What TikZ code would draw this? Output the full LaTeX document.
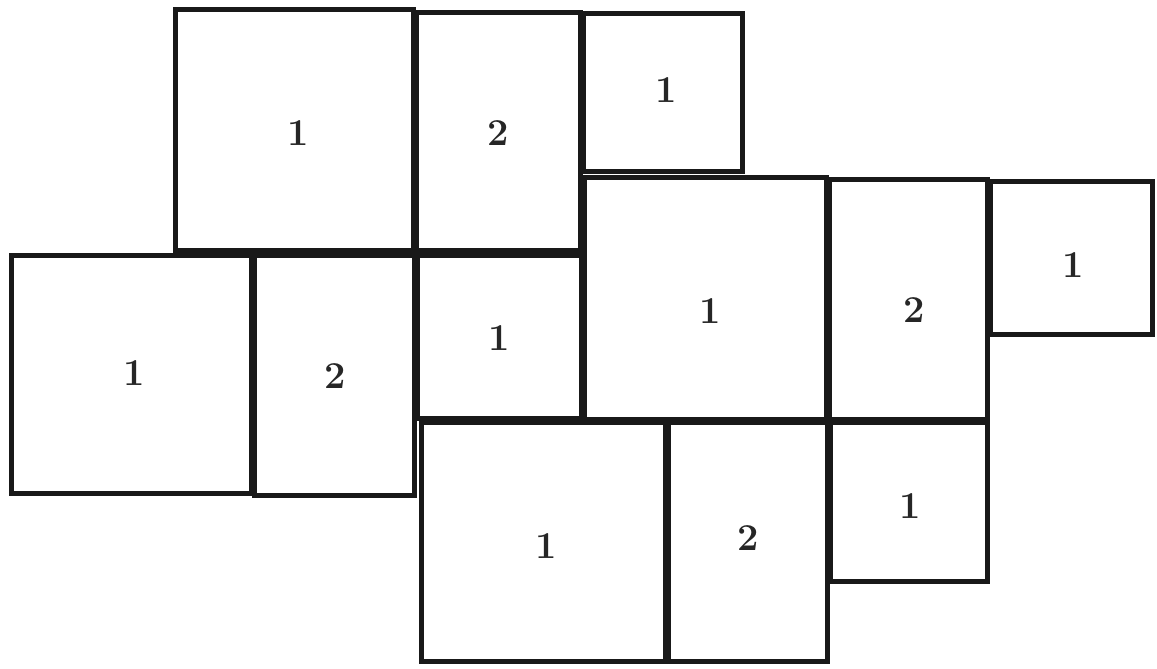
\documentclass[tikz,border=0pt]{standalone}
\begin{document}
\begin{tikzpicture}[x=1pt,y=-1pt,
  tile/.style={draw=black!90, line width=4.6pt, line join=miter},
  num/.style={inner sep=0pt, font=\fontsize{38}{38}\selectfont\bfseries, text=black!85}]
\useasboundingbox[fill=white] (0,0) rectangle (1157,669);
% tile (name, x1,y1,x2,y2): edge strokes lie just inside the cell, overlapping the neighbour's
\newcommand{\tileat}[5]{%
  \draw[tile] ({#2+1.4},{#3+1.4}) rectangle ({#4-1.4},{#5-1.4});
  \coordinate (#1) at ({(#2+#4)/2},{(#3+#5)/2});}
\tileat{A1}{174}{8}{415}{252}
\tileat{A2}{415}{11}{582}{252}
\tileat{A3}{582}{12}{744}{173}
\tileat{B1}{10}{254}{253}{495}
\tileat{B2}{253}{254}{416}{497}
\tileat{B3}{416}{254}{583}{420}
\tileat{C1}{583}{176}{828}{421}
\tileat{C2}{828}{178}{989}{421}
\tileat{C3}{989}{180}{1154}{336}
\tileat{D1}{420}{421}{667}{663}
\tileat{D2}{667}{421}{829}{663}
\tileat{D3}{829}{421}{989}{583}
\node[num] (tA1) at (298,133) {1};
\node[num] (tA2) at (498,133) {2};
\node[num] (tA3) at (666,90) {1};
\node[num] (tB1) at (134,373) {1};
\node[num] (tB2) at (335,376) {2};
\node[num] (tB3) at (499,338) {1};
\node[num] (tC1) at (710,311) {1};
\node[num] (tC2) at (914,310) {2};
\node[num] (tC3) at (1073,265) {1};
\node[num] (tD1) at (546,546) {1};
\node[num] (tD2) at (748,538) {2};
\node[num] (tD3) at (910,506) {1};
\end{tikzpicture}
\end{document}
